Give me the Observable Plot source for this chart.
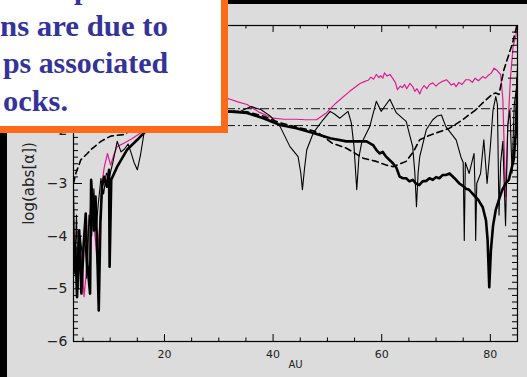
<!DOCTYPE html>
<html><head><meta charset="utf-8">
<script src="https://cdn.jsdelivr.net/npm/d3@7"></script>
<script src="https://cdn.jsdelivr.net/npm/@observablehq/plot@0.6"></script>
<style>
html,body{margin:0;padding:0;background:#dcdcdc;width:527px;height:377px;overflow:hidden;position:relative;}
#chart{position:absolute;left:0;top:0;}
#topbar{position:absolute;left:0;top:0;width:527px;height:4px;background:#000;}
#leftbar{position:absolute;left:0;top:0;width:7px;height:377px;background:#000;}
#box{position:absolute;left:-20px;top:-20px;width:248px;height:153px;box-sizing:border-box;background:#fff;border:7px solid #ff6a1a;}
#boxtext{position:absolute;left:0;top:0;width:221px;height:126px;overflow:hidden;}
</style>
</head><body>
<div id="chart"></div>
<div id="topbar"></div>
<div id="leftbar"></div>
<div id="box"></div>
<svg id="boxtext" width="221" height="126"></svg>
<script>
// ---- data ----
const xDomain = [3.25, 85];
const yDomain = [-6, 0];
const xMajorTicks = [20, 40, 60, 80];
const xMinorTicks = [5, 10, 15, 25, 30, 35, 45, 50, 55, 65, 70, 75];
const yMajorTicks = [-6, -5, -4, -3, -2, -1];
const yLabelTicks = [-6, -5, -4, -3, -2];
const yTickLabels = ["−6", "−5", "−4", "−3", "−2"];
const refLevels = [-1.58, -1.90];

const magentaAU = [3.25,3.6,4.0,4.3,4.6,4.9,5.2,5.5,5.8,6.1,6.4,6.7,7.0,7.3,7.6,7.9,8.1,8.5,8.9,9.5,10.1,10.7,11.3,12.6,14.0,15.6,18,21,24,27,30,31.8,33.5,35.2,37.5,40.0,42,44.3,46,48.0,49.8,51.6,54.1,56.0,56.9,57.5,58.0,58.5,59.0,59.5,59.8,60.2,60.5,61.0,61.5,62.0,62.5,62.9,63.4,63.8,64.2,64.6,65.2,65.7,66.1,66.5,67.0,67.3,67.8,68.3,68.8,69.4,70.0,70.5,71.2,71.9,72.4,72.8,73.3,73.7,74.2,74.8,75.5,76.1,76.7,77.2,77.8,78.6,79.1,79.6,80.2,80.7,81.3,81.9,82.3,82.8,83.2,83.7,84.2,84.7,85];
const magentaLog = [-4.3,-4.1,-3.9,-3.9,-4.3,-4.65,-5.15,-4.8,-4.39,-3.8,-3.44,-3.41,-3.8,-4.08,-4.52,-4.0,-3.76,-3.0,-2.7,-2.43,-2.65,-2.45,-2.3,-2.23,-2.15,-2.04,-1.9,-1.75,-1.6,-1.5,-1.42,-1.39,-1.45,-1.50,-1.65,-1.76,-1.78,-1.78,-1.79,-1.79,-1.66,-1.47,-1.25,-1.1,-1.06,-1.04,-0.98,-1.02,-0.93,-0.99,-0.95,-1.0,-0.9,-0.96,-0.93,-1.0,-1.08,-1.22,-1.15,-1.18,-1.12,-1.2,-1.1,-1.16,-1.25,-1.2,-1.3,-1.22,-1.14,-1.2,-1.12,-1.09,-1.15,-1.1,-1.06,-1.03,-1.08,-1.13,-1.1,-1.16,-1.08,-1.12,-1.03,-1.03,-1.08,-1.0,-1.05,-0.97,-1.0,-0.95,-0.9,-0.81,-0.86,-0.93,-1.4,-3.25,-2.0,-1.0,-0.39,-0.2,0.05];

const thickAU = [3.25,3.6,3.9,4.3,4.7,5.1,5.5,5.8,6.3,6.5,7.0,7.3,7.6,7.9,8.2,8.5,8.9,9.4,9.8,9.9,10.2,11.3,13.1,15.0,16.2,20,25,28,31.8,35.2,38.2,41.3,44.3,47.4,50.5,53.5,55.5,57.2,58.4,59.0,59.6,60.2,60.8,61.4,62.1,62.7,63.3,63.9,64.5,65.1,65.7,66.3,66.9,67.5,68.2,68.8,69.4,70.0,70.6,71.2,71.8,72.5,73.4,74.3,75.0,75.5,76.1,76.7,77.7,78.6,79.2,79.5,79.8,80.1,80.5,81.0,81.6,82.2,82.8,83.4,84.3,84.7,85];
const thickLog = [-4.71,-4.2,-5.16,-3.89,-5.09,-4.2,-3.57,-4.52,-5.09,-2.93,-3.89,-3.25,-4.2,-5.41,-3.76,-3.06,-2.87,-3.06,-2.74,-4.58,-2.93,-2.68,-2.36,-2.17,-2.04,-1.8,-1.7,-1.65,-1.63,-1.66,-1.76,-1.89,-1.95,-2.04,-2.14,-2.20,-2.20,-2.20,-2.27,-2.36,-2.43,-2.4,-2.49,-2.55,-2.62,-2.7,-2.87,-2.9,-2.9,-2.96,-2.93,-3.0,-3.03,-2.96,-2.95,-2.9,-2.93,-2.88,-2.9,-2.84,-2.84,-2.81,-2.90,-3.0,-3.05,-3.1,-3.12,-3.19,-3.3,-3.45,-3.7,-4.08,-4.97,-4.27,-3.8,-3.5,-3.3,-3.12,-3.0,-2.93,-2.55,-2.0,-1.0];

const thinAU = [3.25,3.5,3.8,4.1,4.5,4.9,5.3,5.7,6.1,6.6,7.0,7.4,7.8,8.3,8.8,9.3,9.8,10.5,11.3,12.0,12.6,13.3,13.8,14.4,15.0,15.6,16.3,18,20,23,26,29,31.8,33.5,35,36,37.8,39.5,41.3,43.1,44.6,45.1,45.4,45.8,46.2,47.4,49.2,50.5,51.3,52.3,53.8,54.4,54.9,55.4,55.8,56.3,57.8,59.0,59.9,61.5,62.7,64.5,65.7,66.1,66.4,66.7,67.0,68.2,69.4,70.2,71.0,71.8,73.7,74.6,75.0,75.2,75.4,76.1,77.0,77.2,77.3,77.5,78.2,78.8,79.4,80.0,80.5,81.0,81.3,81.6,81.9,82.3,82.8,83.2,83.6,84.0,84.4,84.8,85];
const thinLog = [-3.1,-4.6,-3.6,-5.0,-4.0,-4.4,-3.9,-4.8,-3.6,-4.0,-3.1,-3.9,-3.4,-2.9,-3.2,-2.8,-2.9,-2.6,-2.2,-2.4,-2.35,-2.25,-2.4,-2.6,-2.74,-2.45,-2.0,-1.75,-1.6,-1.55,-1.6,-1.6,-1.62,-1.65,-1.58,-1.54,-1.6,-1.72,-1.92,-2.3,-2.49,-2.8,-3.12,-2.7,-2.36,-2.04,-1.79,-1.63,-1.68,-1.76,-1.63,-1.85,-2.3,-3.12,-2.5,-2.23,-1.92,-1.44,-1.63,-1.40,-1.66,-1.82,-2.30,-2.8,-3.44,-2.8,-2.49,-1.98,-1.79,-1.72,-1.70,-1.92,-2.17,-2.5,-2.6,-4.08,-2.6,-2.81,-2.43,-3.2,-4.08,-3.0,-2.81,-2.17,-3.0,-2.3,-1.6,-1.35,-1.5,-3.6,-2.6,-2.2,-3.8,-1.9,-1.6,-2.8,-1.5,-1.2,-0.8];

const dashedAU = [3.25,3.7,4.6,5.8,6.4,8.3,10.1,12.6,15,20,25,31.8,35.2,38.2,41.3,44.3,47.4,48.5,50.8,53.5,56.6,59.0,60.8,62.1,64.5,65.8,67.0,68.5,70.0,72.5,74.9,77.3,78.8,80.3,81.0,81.6,82.5,84.1,85];
const dashedLog = [-3.0,-2.8,-2.55,-2.43,-2.36,-2.2,-2.1,-2.07,-1.9,-1.75,-1.65,-1.62,-1.64,-1.72,-1.85,-1.93,-2.0,-2.05,-2.23,-2.33,-2.52,-2.58,-2.65,-2.68,-2.58,-2.4,-2.17,-2.1,-2.04,-1.95,-1.79,-1.6,-1.45,-1.31,-1.28,-1.31,-0.84,-0.33,0.05];

const boxLines = ["p", "ns are due to", "ps associated", "ocks."];

// ---- build ----
const pts = (xs, ys) => xs.map((x, i) => ({x, y: ys[i]}));
const yMinorTicks = d3.range(-6, 0.001, 0.125).filter(v => !yMajorTicks.includes(v));

const W = 527, H = 377, mL = 73, mR = 10, mT = 25, mB = 36;
const innerW = W - mL - mR, innerH = H - mT - mB;

const chart = Plot.plot({
  width: W, height: H,
  marginLeft: mL, marginRight: mR, marginTop: mT, marginBottom: mB,
  style: {background: "#dcdcdc", fontFamily: "DejaVu Sans", color: "#222"},
  x: {domain: xDomain},
  y: {domain: yDomain},
  marks: [
    Plot.ruleY(refLevels, {x1: 3.25, x2: 84.3, stroke: "#111", strokeWidth: 1, strokeDasharray: "9,3,2,3"}),
    Plot.line(pts(magentaAU, magentaLog), {x: "x", y: "y", stroke: "#e31a8f", strokeWidth: 1.2, clip: true}),
    Plot.line(pts(dashedAU, dashedLog), {x: "x", y: "y", stroke: "#000", strokeWidth: 1.6, strokeDasharray: "6,4", clip: true}),
    Plot.line(pts(thinAU, thinLog), {x: "x", y: "y", stroke: "#000", strokeWidth: 1.1, clip: true}),
    Plot.line(pts(thickAU, thickLog), {x: "x", y: "y", stroke: "#000", strokeWidth: 2.6, clip: true}),
    Plot.frame({stroke: "#000", strokeWidth: 1.2}),
    Plot.ruleX(xMajorTicks, {x: d => d, insetTop: innerH - 7, stroke: "#000"}),
    Plot.ruleX(xMinorTicks, {x: d => d, insetTop: innerH - 3.5, stroke: "#000"}),
    Plot.ruleX(xMajorTicks, {x: d => d, insetBottom: innerH - 7, stroke: "#000"}),
    Plot.ruleX(xMinorTicks, {x: d => d, insetBottom: innerH - 3.5, stroke: "#000"}),
    Plot.ruleY(yMajorTicks, {y: d => d, insetRight: innerW - 9, stroke: "#000"}),
    Plot.ruleY(yMinorTicks, {y: d => d, insetRight: innerW - 5, stroke: "#000"}),
    Plot.ruleY(yMajorTicks, {y: d => d, insetLeft: innerW - 9, stroke: "#000"}),
    Plot.ruleY(yMinorTicks, {y: d => d, insetLeft: innerW - 5, stroke: "#000"}),
    Plot.axisX({ticks: xMajorTicks, tickSize: 0, tickPadding: 9, fontSize: 11, label: null}),
    Plot.axisY({ticks: yLabelTicks, tickSize: 0, tickPadding: 6, fontSize: 14, label: null,
      tickFormat: d => yTickLabels[yLabelTicks.indexOf(d)]}),
    Plot.text(["AU"], {frameAnchor: "bottom", dy: 26, fontSize: 10, fill: "#222"}),
    Plot.text(["log(abs[α])"], {frameAnchor: "left", dx: -44, rotate: -90, textAnchor: "middle", fontSize: 15, fill: "#222"})
  ]
});
document.getElementById("chart").appendChild(chart);

// ---- overlay text box ----
const svg = d3.select("#boxtext");
const baselines = [-1, 36, 73, 111];
const xs = [74, 0, 3, 3];
const lengths = [null, 168, 165, 65];
boxLines.forEach((t, i) => {
  const el = svg.append("text").attr("x", xs[i]).attr("y", baselines[i])
    .attr("font-family", "Liberation Serif, Times New Roman, serif")
    .attr("font-weight", "bold").attr("font-size", 30)
    .attr("fill", "#333399").text(t);
  if (lengths[i]) el.attr("textLength", lengths[i]).attr("lengthAdjust", "spacingAndGlyphs");
});
</script>
</body></html>
